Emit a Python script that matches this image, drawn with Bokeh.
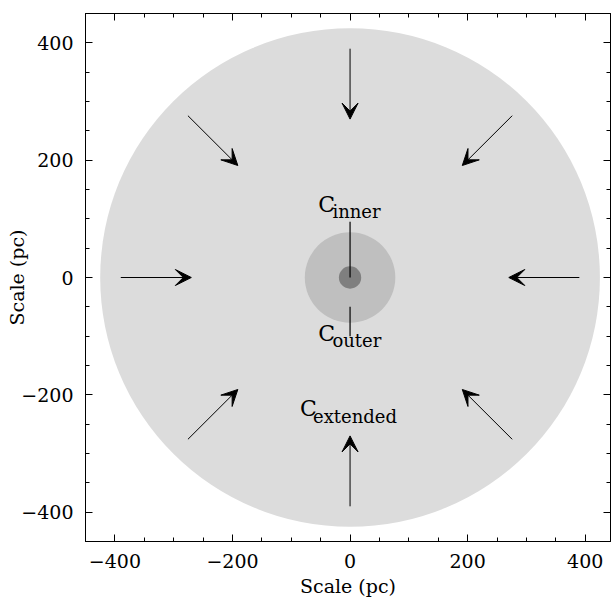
import numpy as np
from bokeh.plotting import figure
from bokeh.models import (Range1d, LinearAxis, SingleIntervalTicker, Arrow, VeeHead)
from bokeh.core.properties import value
from bokeh.embed import file_html
from bokeh.resources import INLINE

# ---- data ----
region_names = ["extended", "outer", "inner"]
region_radius = [425, 77, 19]          # pc
region_colors = ["#dcdcdc", "#bfbfbf", "#7f7f7f"]
arrow_angles_deg = [90, 45, 0, -45, -90, -135, 180, 135]
arrow_r_start = 390
arrow_r_end = 270
tick_values = [-400, -200, 0, 200, 400]
tick_labels = ["\u2212400", "\u2212200", "0", "200", "400"]

FONT = "DejaVu Serif"

p = figure(width=611, height=599, x_range=Range1d(-450, 443), y_range=Range1d(-450, 450),
           output_backend="svg", toolbar_location=None,
           min_border_left=85, min_border_right=1, min_border_top=13, min_border_bottom=56)
p.grid.visible = False
p.outline_line_color = "black"
p.background_fill_color = "white"
p.border_fill_color = "white"

# regions
for r, c in zip(region_radius, region_colors):
    p.ellipse(x=[0], y=[0], width=[2 * r], height=[2 * r], fill_color=c, line_color=None)

# arrows
for a in arrow_angles_deg:
    t = np.deg2rad(a)
    p.add_layout(Arrow(x_start=arrow_r_start * np.cos(t), y_start=arrow_r_start * np.sin(t),
                       x_end=arrow_r_end * np.cos(t), y_end=arrow_r_end * np.sin(t),
                       line_color="black", line_width=1,
                       end=VeeHead(size=16, fill_color="black", line_color="black", line_width=1)))

# leader lines
p.segment(x0=[0, 0], y0=[0, -50], x1=[0, 0], y1=[95, -100], line_color="black", line_width=1.2)

# labels
p.text(x=[-54, -54, -85], y=[124, -96, -223], text=["C", "C", "C"],
       text_font=value(FONT), text_font_size=value("22px"),
       text_align="left", text_baseline="alphabetic", text_color="black")
p.text(x=[-30, -30, -63], y=[112, -108, -237], text=["inner", "outer", "extended"],
       text_font=value(FONT), text_font_size=value("18px"),
       text_align="left", text_baseline="alphabetic", text_color="black")

# axes
overrides = {v: s for v, s in zip(tick_values, tick_labels)}

def style_axis(ax, show_labels):
    ax.ticker = SingleIntervalTicker(interval=200, num_minor_ticks=4)
    ax.major_tick_in = 7
    ax.major_tick_out = 0
    ax.minor_tick_in = 4
    ax.minor_tick_out = 0
    ax.axis_line_color = "black"
    ax.major_tick_line_color = "black"
    ax.minor_tick_line_color = "black"
    ax.major_label_text_font = FONT
    ax.axis_label_text_font = FONT
    ax.axis_label_text_font_style = "normal"
    ax.axis_label_text_font_size = "19px"
    ax.axis_label_text_color = "black"
    ax.major_label_text_color = "black"
    if show_labels:
        ax.major_label_text_font_size = "19px"
        ax.major_label_overrides = overrides
    else:
        ax.major_label_text_font_size = "0px"
        ax.major_label_text_alpha = 0

xa = p.xaxis[0]
ya = p.yaxis[0]
style_axis(xa, True)
style_axis(ya, True)
xa.axis_label = "Scale (pc)"
ya.axis_label = "Scale (pc)"
xa.major_label_standoff = 12
ya.major_label_standoff = 12
xa.axis_label_standoff = 4
ya.axis_label_standoff = -10

top = LinearAxis()
style_axis(top, False)
p.add_layout(top, "above")
right = LinearAxis()
style_axis(right, False)
p.add_layout(right, "right")

open("out.html", "w").write(file_html(p, INLINE))
